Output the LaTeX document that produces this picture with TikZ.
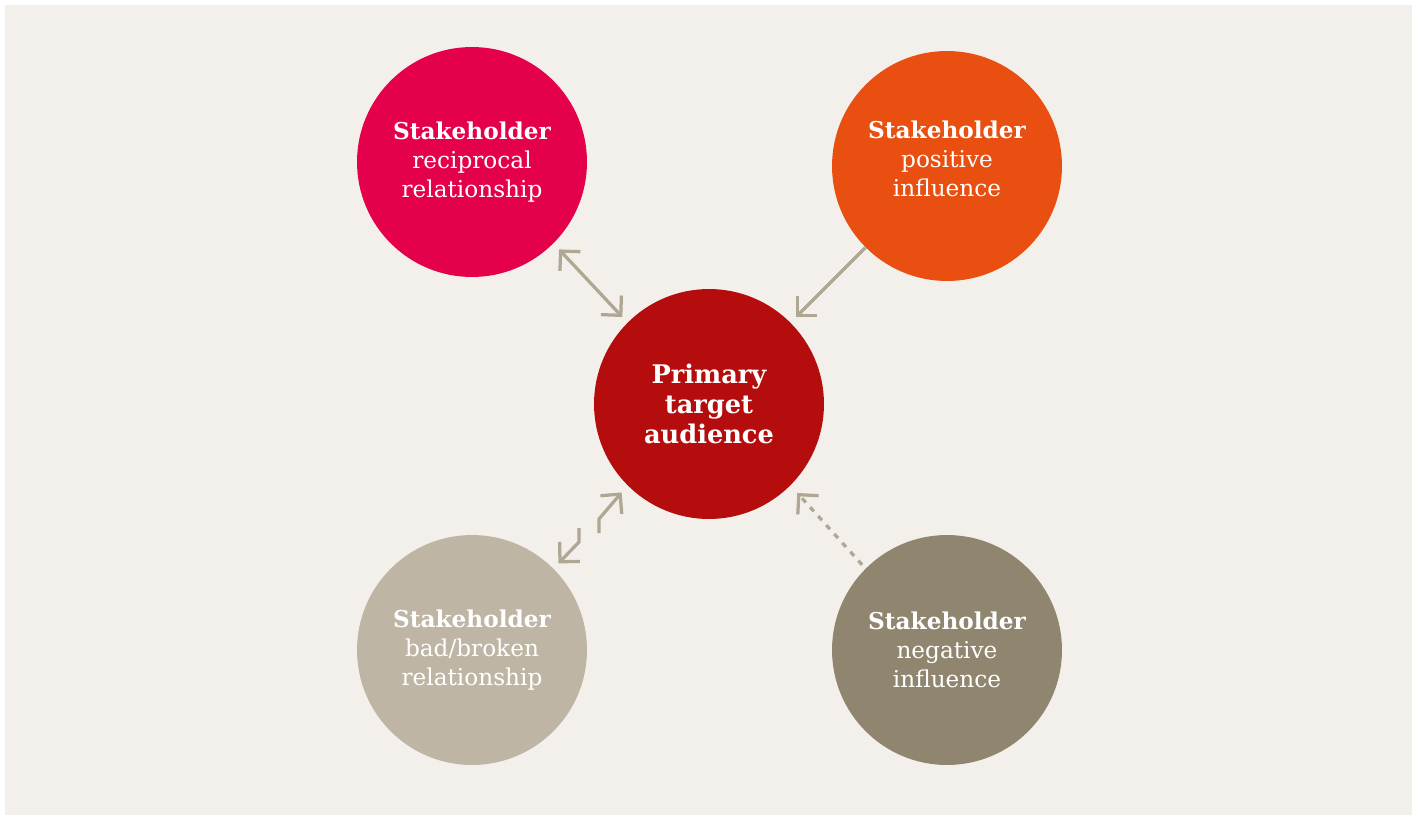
\documentclass[tikz,border=0pt]{standalone}
\usepackage{fontspec}
\setmainfont{DejaVu Serif}
\usetikzlibrary{arrows.meta}

\definecolor{panel}{RGB}{243,240,235}
\definecolor{recipred}{RGB}{228,0,74}
\definecolor{posorange}{RGB}{232,79,16}
\definecolor{targetred}{RGB}{181,13,13}
\definecolor{brokentan}{RGB}{191,181,165}
\definecolor{negbrown}{RGB}{144,134,112}
\definecolor{linkgray}{RGB}{176,166,148}

\tikzset{
  barb/.tip={Straight Barb[length=0.28cm, width=0.56cm, line cap=butt, line join=miter]},
  stake/.style={circle, minimum size=4.6cm, inner sep=0pt, text=white,
    align=center, font=\fontsize{13.2}{16.4}\selectfont},
  link/.style={draw=linkgray, line width=0.065cm, -barb},
  twoway/.style={link, barb-barb}
}

\begin{document}
\begin{tikzpicture}[x=0.02cm, y=-0.02cm]
  \fill[white] (0,0) rectangle (1416,818);
  \fill[panel] (5,5) rectangle (1412,815);

  % the five circles
  \node[stake, fill=targetred, font=\fontsize{14.6}{17}\selectfont\bfseries]
    (target) at (709,404) {Primary\\target\\audience};
  \node[stake, fill=recipred] (recip) at (472,162)
    {{\bfseries Stakeholder}\\reciprocal\\relationship};
  \node[stake, fill=posorange] (positive) at (947,166)
    {{\bfseries Stakeholder}\\positive\\influence\\[-0.28cm]};
  \node[stake, fill=brokentan] (broken) at (472,650)
    {{\bfseries Stakeholder}\\bad/broken\\relationship};
  \node[stake, fill=negbrown] (negative) at (947,650)
    {{\bfseries Stakeholder}\\negative\\influence};

  % connectors
  \draw[twoway, shorten <=0.16cm, shorten >=0.15cm] (recip.-45) -- (target.135);
  \draw[link, shorten >=0.15cm] (positive.-135) -- (target.45);
  \draw[link, dash pattern=on 0.11cm off 0.13cm, shorten <=0.1cm, shorten >=0.2cm]
    (negative.135) -- (target.-45);

  % broken link, drawn in two halves
  \coordinate (upA) at (599,533);
  \coordinate (upB) at (599,519);
  \coordinate (downA) at (579,528);
  \coordinate (downB) at (579,542);
  \draw[link, shorten >=0.18cm] (upA) -- (upB) -- (target.-135);
  \draw[link, shorten >=0.14cm] (downA) -- (downB) -- (broken.45);
\end{tikzpicture}
\end{document}
